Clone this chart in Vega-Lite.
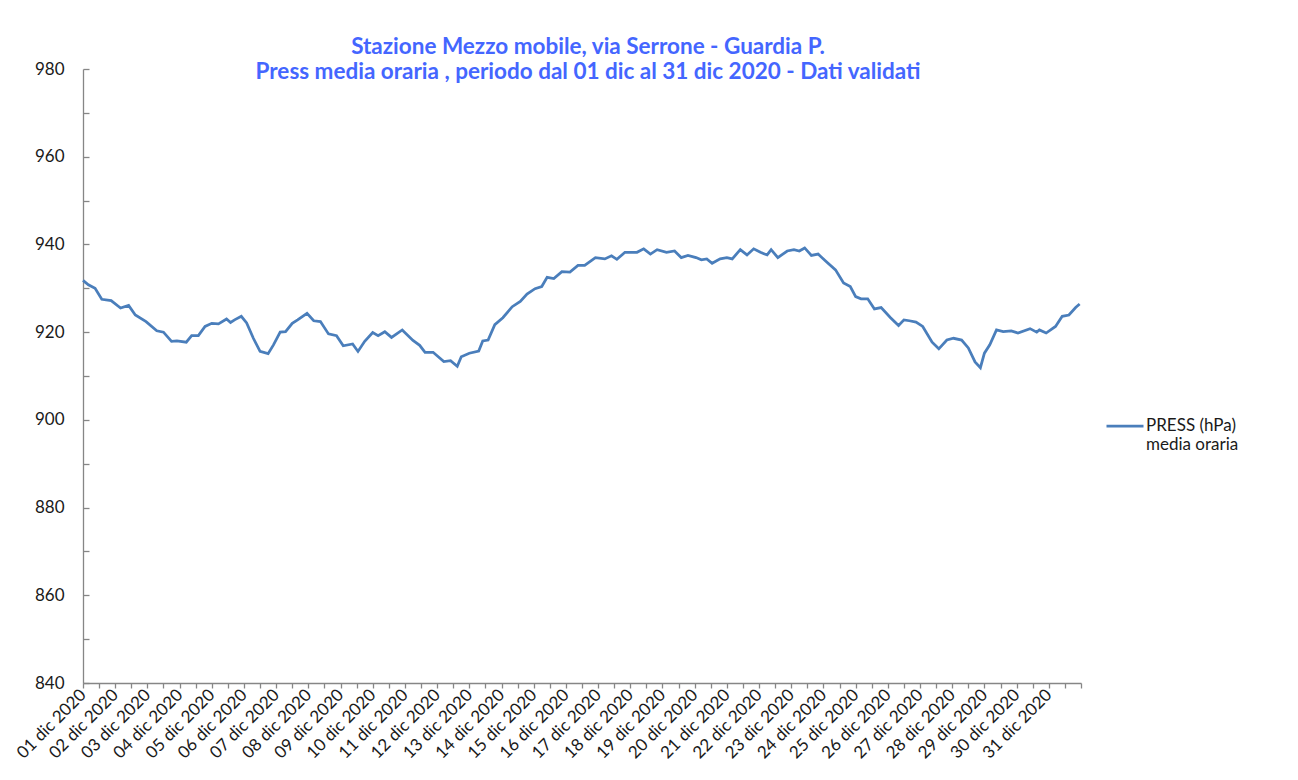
{
  "$schema": "https://vega.github.io/schema/vega-lite/v6.json",
  "width": 998,
  "height": 614,
  "padding": {"left": 13, "top": 35, "right": 5, "bottom": 5},
  "background": "white",
  "config": {
    "view": {"stroke": null},
    "font": "Lato",
    "axis": {"grid": false, "domainColor": "#868686", "tickColor": "#868686", "domainWidth": 1.3, "tickWidth": 1.3, "labelColor": "#1a1a1a", "labelFont": "Lato", "labelFontSize": 17}
  },
  "title": {
    "text": ["Stazione Mezzo mobile, via Serrone -  Guardia P.", "Press  media oraria , periodo dal 01 dic al 31 dic 2020 - Dati validati"],
    "font": "Lato",
    "fontSize": 22.5,
    "fontWeight": "bold",
    "color": "#4466ff",
    "anchor": "middle",
    "dx": 6,
    "offset": -23,
    "lineHeight": 25
  },
  "data": {"values": [
    {"t": "2020-12-01T00:00", "press": 931.8, "serie": "PRESS (hPa)|media oraria"},
    {"t": "2020-12-01T04:00", "press": 930.8, "serie": "PRESS (hPa)|media oraria"},
    {"t": "2020-12-01T09:00", "press": 930.0, "serie": "PRESS (hPa)|media oraria"},
    {"t": "2020-12-01T14:00", "press": 927.5, "serie": "PRESS (hPa)|media oraria"},
    {"t": "2020-12-01T21:00", "press": 927.2, "serie": "PRESS (hPa)|media oraria"},
    {"t": "2020-12-02T04:00", "press": 925.5, "serie": "PRESS (hPa)|media oraria"},
    {"t": "2020-12-02T10:00", "press": 926.1, "serie": "PRESS (hPa)|media oraria"},
    {"t": "2020-12-02T15:00", "press": 923.9, "serie": "PRESS (hPa)|media oraria"},
    {"t": "2020-12-02T23:00", "press": 922.4, "serie": "PRESS (hPa)|media oraria"},
    {"t": "2020-12-03T07:00", "press": 920.3, "serie": "PRESS (hPa)|media oraria"},
    {"t": "2020-12-03T12:00", "press": 920.0, "serie": "PRESS (hPa)|media oraria"},
    {"t": "2020-12-03T18:00", "press": 917.9, "serie": "PRESS (hPa)|media oraria"},
    {"t": "2020-12-03T22:00", "press": 918.0, "serie": "PRESS (hPa)|media oraria"},
    {"t": "2020-12-04T05:00", "press": 917.7, "serie": "PRESS (hPa)|media oraria"},
    {"t": "2020-12-04T09:00", "press": 919.2, "serie": "PRESS (hPa)|media oraria"},
    {"t": "2020-12-04T14:00", "press": 919.2, "serie": "PRESS (hPa)|media oraria"},
    {"t": "2020-12-04T19:00", "press": 921.3, "serie": "PRESS (hPa)|media oraria"},
    {"t": "2020-12-05T00:00", "press": 922.0, "serie": "PRESS (hPa)|media oraria"},
    {"t": "2020-12-05T05:00", "press": 921.9, "serie": "PRESS (hPa)|media oraria"},
    {"t": "2020-12-05T11:00", "press": 923.0, "serie": "PRESS (hPa)|media oraria"},
    {"t": "2020-12-05T14:00", "press": 922.2, "serie": "PRESS (hPa)|media oraria"},
    {"t": "2020-12-05T17:00", "press": 922.8, "serie": "PRESS (hPa)|media oraria"},
    {"t": "2020-12-05T22:00", "press": 923.6, "serie": "PRESS (hPa)|media oraria"},
    {"t": "2020-12-06T02:00", "press": 922.1, "serie": "PRESS (hPa)|media oraria"},
    {"t": "2020-12-06T07:00", "press": 918.6, "serie": "PRESS (hPa)|media oraria"},
    {"t": "2020-12-06T12:00", "press": 915.6, "serie": "PRESS (hPa)|media oraria"},
    {"t": "2020-12-06T18:00", "press": 915.1, "serie": "PRESS (hPa)|media oraria"},
    {"t": "2020-12-06T22:00", "press": 917.1, "serie": "PRESS (hPa)|media oraria"},
    {"t": "2020-12-07T03:00", "press": 920.0, "serie": "PRESS (hPa)|media oraria"},
    {"t": "2020-12-07T07:00", "press": 920.1, "serie": "PRESS (hPa)|media oraria"},
    {"t": "2020-12-07T12:00", "press": 922.0, "serie": "PRESS (hPa)|media oraria"},
    {"t": "2020-12-07T16:00", "press": 922.8, "serie": "PRESS (hPa)|media oraria"},
    {"t": "2020-12-07T23:00", "press": 924.3, "serie": "PRESS (hPa)|media oraria"},
    {"t": "2020-12-08T04:00", "press": 922.6, "serie": "PRESS (hPa)|media oraria"},
    {"t": "2020-12-08T09:00", "press": 922.4, "serie": "PRESS (hPa)|media oraria"},
    {"t": "2020-12-08T15:00", "press": 919.6, "serie": "PRESS (hPa)|media oraria"},
    {"t": "2020-12-08T21:00", "press": 919.2, "serie": "PRESS (hPa)|media oraria"},
    {"t": "2020-12-09T02:00", "press": 916.9, "serie": "PRESS (hPa)|media oraria"},
    {"t": "2020-12-09T09:00", "press": 917.3, "serie": "PRESS (hPa)|media oraria"},
    {"t": "2020-12-09T13:00", "press": 915.6, "serie": "PRESS (hPa)|media oraria"},
    {"t": "2020-12-09T18:00", "press": 917.9, "serie": "PRESS (hPa)|media oraria"},
    {"t": "2020-12-10T00:00", "press": 919.9, "serie": "PRESS (hPa)|media oraria"},
    {"t": "2020-12-10T04:00", "press": 919.2, "serie": "PRESS (hPa)|media oraria"},
    {"t": "2020-12-10T09:00", "press": 920.1, "serie": "PRESS (hPa)|media oraria"},
    {"t": "2020-12-10T14:00", "press": 918.8, "serie": "PRESS (hPa)|media oraria"},
    {"t": "2020-12-10T22:00", "press": 920.5, "serie": "PRESS (hPa)|media oraria"},
    {"t": "2020-12-11T06:00", "press": 918.1, "serie": "PRESS (hPa)|media oraria"},
    {"t": "2020-12-11T11:00", "press": 917.0, "serie": "PRESS (hPa)|media oraria"},
    {"t": "2020-12-11T15:00", "press": 915.4, "serie": "PRESS (hPa)|media oraria"},
    {"t": "2020-12-11T21:00", "press": 915.4, "serie": "PRESS (hPa)|media oraria"},
    {"t": "2020-12-12T05:00", "press": 913.3, "serie": "PRESS (hPa)|media oraria"},
    {"t": "2020-12-12T10:00", "press": 913.5, "serie": "PRESS (hPa)|media oraria"},
    {"t": "2020-12-12T15:00", "press": 912.2, "serie": "PRESS (hPa)|media oraria"},
    {"t": "2020-12-12T18:00", "press": 914.4, "serie": "PRESS (hPa)|media oraria"},
    {"t": "2020-12-13T00:00", "press": 915.2, "serie": "PRESS (hPa)|media oraria"},
    {"t": "2020-12-13T07:00", "press": 915.7, "serie": "PRESS (hPa)|media oraria"},
    {"t": "2020-12-13T10:00", "press": 918.0, "serie": "PRESS (hPa)|media oraria"},
    {"t": "2020-12-13T14:00", "press": 918.2, "serie": "PRESS (hPa)|media oraria"},
    {"t": "2020-12-13T19:00", "press": 921.7, "serie": "PRESS (hPa)|media oraria"},
    {"t": "2020-12-14T01:00", "press": 923.3, "serie": "PRESS (hPa)|media oraria"},
    {"t": "2020-12-14T08:00", "press": 925.8, "serie": "PRESS (hPa)|media oraria"},
    {"t": "2020-12-14T14:00", "press": 927.0, "serie": "PRESS (hPa)|media oraria"},
    {"t": "2020-12-14T19:00", "press": 928.7, "serie": "PRESS (hPa)|media oraria"},
    {"t": "2020-12-15T01:00", "press": 929.9, "serie": "PRESS (hPa)|media oraria"},
    {"t": "2020-12-15T06:00", "press": 930.4, "serie": "PRESS (hPa)|media oraria"},
    {"t": "2020-12-15T10:00", "press": 932.5, "serie": "PRESS (hPa)|media oraria"},
    {"t": "2020-12-15T15:00", "press": 932.2, "serie": "PRESS (hPa)|media oraria"},
    {"t": "2020-12-15T21:00", "press": 933.8, "serie": "PRESS (hPa)|media oraria"},
    {"t": "2020-12-16T03:00", "press": 933.7, "serie": "PRESS (hPa)|media oraria"},
    {"t": "2020-12-16T09:00", "press": 935.2, "serie": "PRESS (hPa)|media oraria"},
    {"t": "2020-12-16T14:00", "press": 935.2, "serie": "PRESS (hPa)|media oraria"},
    {"t": "2020-12-16T22:00", "press": 937.0, "serie": "PRESS (hPa)|media oraria"},
    {"t": "2020-12-17T05:00", "press": 936.7, "serie": "PRESS (hPa)|media oraria"},
    {"t": "2020-12-17T10:00", "press": 937.4, "serie": "PRESS (hPa)|media oraria"},
    {"t": "2020-12-17T14:00", "press": 936.6, "serie": "PRESS (hPa)|media oraria"},
    {"t": "2020-12-17T20:00", "press": 938.2, "serie": "PRESS (hPa)|media oraria"},
    {"t": "2020-12-18T05:00", "press": 938.2, "serie": "PRESS (hPa)|media oraria"},
    {"t": "2020-12-18T10:00", "press": 939.0, "serie": "PRESS (hPa)|media oraria"},
    {"t": "2020-12-18T15:00", "press": 937.8, "serie": "PRESS (hPa)|media oraria"},
    {"t": "2020-12-18T20:00", "press": 938.8, "serie": "PRESS (hPa)|media oraria"},
    {"t": "2020-12-19T03:00", "press": 938.2, "serie": "PRESS (hPa)|media oraria"},
    {"t": "2020-12-19T09:00", "press": 938.5, "serie": "PRESS (hPa)|media oraria"},
    {"t": "2020-12-19T14:00", "press": 937.0, "serie": "PRESS (hPa)|media oraria"},
    {"t": "2020-12-19T19:00", "press": 937.5, "serie": "PRESS (hPa)|media oraria"},
    {"t": "2020-12-20T01:00", "press": 937.0, "serie": "PRESS (hPa)|media oraria"},
    {"t": "2020-12-20T05:00", "press": 936.5, "serie": "PRESS (hPa)|media oraria"},
    {"t": "2020-12-20T09:00", "press": 936.7, "serie": "PRESS (hPa)|media oraria"},
    {"t": "2020-12-20T13:00", "press": 935.7, "serie": "PRESS (hPa)|media oraria"},
    {"t": "2020-12-20T19:00", "press": 936.7, "serie": "PRESS (hPa)|media oraria"},
    {"t": "2020-12-21T00:00", "press": 937.0, "serie": "PRESS (hPa)|media oraria"},
    {"t": "2020-12-21T04:00", "press": 936.7, "serie": "PRESS (hPa)|media oraria"},
    {"t": "2020-12-21T10:00", "press": 938.8, "serie": "PRESS (hPa)|media oraria"},
    {"t": "2020-12-21T15:00", "press": 937.6, "serie": "PRESS (hPa)|media oraria"},
    {"t": "2020-12-21T20:00", "press": 939.0, "serie": "PRESS (hPa)|media oraria"},
    {"t": "2020-12-22T01:00", "press": 938.2, "serie": "PRESS (hPa)|media oraria"},
    {"t": "2020-12-22T06:00", "press": 937.6, "serie": "PRESS (hPa)|media oraria"},
    {"t": "2020-12-22T09:00", "press": 938.8, "serie": "PRESS (hPa)|media oraria"},
    {"t": "2020-12-22T14:00", "press": 937.0, "serie": "PRESS (hPa)|media oraria"},
    {"t": "2020-12-22T21:00", "press": 938.5, "serie": "PRESS (hPa)|media oraria"},
    {"t": "2020-12-23T02:00", "press": 938.8, "serie": "PRESS (hPa)|media oraria"},
    {"t": "2020-12-23T06:00", "press": 938.5, "serie": "PRESS (hPa)|media oraria"},
    {"t": "2020-12-23T10:00", "press": 939.2, "serie": "PRESS (hPa)|media oraria"},
    {"t": "2020-12-23T15:00", "press": 937.5, "serie": "PRESS (hPa)|media oraria"},
    {"t": "2020-12-23T20:00", "press": 937.8, "serie": "PRESS (hPa)|media oraria"},
    {"t": "2020-12-24T02:00", "press": 936.1, "serie": "PRESS (hPa)|media oraria"},
    {"t": "2020-12-24T09:00", "press": 934.2, "serie": "PRESS (hPa)|media oraria"},
    {"t": "2020-12-24T15:00", "press": 931.2, "serie": "PRESS (hPa)|media oraria"},
    {"t": "2020-12-24T20:00", "press": 930.4, "serie": "PRESS (hPa)|media oraria"},
    {"t": "2020-12-25T00:00", "press": 928.1, "serie": "PRESS (hPa)|media oraria"},
    {"t": "2020-12-25T04:00", "press": 927.6, "serie": "PRESS (hPa)|media oraria"},
    {"t": "2020-12-25T09:00", "press": 927.6, "serie": "PRESS (hPa)|media oraria"},
    {"t": "2020-12-25T14:00", "press": 925.3, "serie": "PRESS (hPa)|media oraria"},
    {"t": "2020-12-25T19:00", "press": 925.6, "serie": "PRESS (hPa)|media oraria"},
    {"t": "2020-12-26T02:00", "press": 923.3, "serie": "PRESS (hPa)|media oraria"},
    {"t": "2020-12-26T08:00", "press": 921.5, "serie": "PRESS (hPa)|media oraria"},
    {"t": "2020-12-26T12:00", "press": 922.8, "serie": "PRESS (hPa)|media oraria"},
    {"t": "2020-12-26T16:00", "press": 922.6, "serie": "PRESS (hPa)|media oraria"},
    {"t": "2020-12-26T21:00", "press": 922.3, "serie": "PRESS (hPa)|media oraria"},
    {"t": "2020-12-27T02:00", "press": 921.3, "serie": "PRESS (hPa)|media oraria"},
    {"t": "2020-12-27T09:00", "press": 917.7, "serie": "PRESS (hPa)|media oraria"},
    {"t": "2020-12-27T14:00", "press": 916.2, "serie": "PRESS (hPa)|media oraria"},
    {"t": "2020-12-27T20:00", "press": 918.2, "serie": "PRESS (hPa)|media oraria"},
    {"t": "2020-12-28T01:00", "press": 918.6, "serie": "PRESS (hPa)|media oraria"},
    {"t": "2020-12-28T07:00", "press": 918.2, "serie": "PRESS (hPa)|media oraria"},
    {"t": "2020-12-28T12:00", "press": 916.4, "serie": "PRESS (hPa)|media oraria"},
    {"t": "2020-12-28T17:00", "press": 913.2, "serie": "PRESS (hPa)|media oraria"},
    {"t": "2020-12-28T21:00", "press": 911.9, "serie": "PRESS (hPa)|media oraria"},
    {"t": "2020-12-29T00:00", "press": 915.2, "serie": "PRESS (hPa)|media oraria"},
    {"t": "2020-12-29T04:00", "press": 917.1, "serie": "PRESS (hPa)|media oraria"},
    {"t": "2020-12-29T09:00", "press": 920.5, "serie": "PRESS (hPa)|media oraria"},
    {"t": "2020-12-29T14:00", "press": 920.1, "serie": "PRESS (hPa)|media oraria"},
    {"t": "2020-12-29T20:00", "press": 920.3, "serie": "PRESS (hPa)|media oraria"},
    {"t": "2020-12-30T01:00", "press": 919.8, "serie": "PRESS (hPa)|media oraria"},
    {"t": "2020-12-30T10:00", "press": 920.8, "serie": "PRESS (hPa)|media oraria"},
    {"t": "2020-12-30T15:00", "press": 920.0, "serie": "PRESS (hPa)|media oraria"},
    {"t": "2020-12-30T17:00", "press": 920.5, "serie": "PRESS (hPa)|media oraria"},
    {"t": "2020-12-30T22:00", "press": 919.8, "serie": "PRESS (hPa)|media oraria"},
    {"t": "2020-12-31T05:00", "press": 921.3, "serie": "PRESS (hPa)|media oraria"},
    {"t": "2020-12-31T10:00", "press": 923.6, "serie": "PRESS (hPa)|media oraria"},
    {"t": "2020-12-31T15:00", "press": 923.9, "serie": "PRESS (hPa)|media oraria"},
    {"t": "2020-12-31T20:00", "press": 925.6, "serie": "PRESS (hPa)|media oraria"},
    {"t": "2020-12-31T23:00", "press": 926.4, "serie": "PRESS (hPa)|media oraria"}
  ]},
  "mark": {"type": "line", "strokeWidth": 2.75},
  "encoding": {
    "x": {
      "field": "t",
      "type": "temporal",
      "title": null,
      "scale": {"domain": [{"year": 2020, "month": 12, "date": 1}, {"year": 2021, "month": 1, "date": 1}], "nice": false},
      "axis": {
        "values": [
          {"year": 2020, "month": 12, "date": 1}, {"year": 2020, "month": 12, "date": 1, "hours": 12},
          {"year": 2020, "month": 12, "date": 2}, {"year": 2020, "month": 12, "date": 2, "hours": 12},
          {"year": 2020, "month": 12, "date": 3}, {"year": 2020, "month": 12, "date": 3, "hours": 12},
          {"year": 2020, "month": 12, "date": 4}, {"year": 2020, "month": 12, "date": 4, "hours": 12},
          {"year": 2020, "month": 12, "date": 5}, {"year": 2020, "month": 12, "date": 5, "hours": 12},
          {"year": 2020, "month": 12, "date": 6}, {"year": 2020, "month": 12, "date": 6, "hours": 12},
          {"year": 2020, "month": 12, "date": 7}, {"year": 2020, "month": 12, "date": 7, "hours": 12},
          {"year": 2020, "month": 12, "date": 8}, {"year": 2020, "month": 12, "date": 8, "hours": 12},
          {"year": 2020, "month": 12, "date": 9}, {"year": 2020, "month": 12, "date": 9, "hours": 12},
          {"year": 2020, "month": 12, "date": 10}, {"year": 2020, "month": 12, "date": 10, "hours": 12},
          {"year": 2020, "month": 12, "date": 11}, {"year": 2020, "month": 12, "date": 11, "hours": 12},
          {"year": 2020, "month": 12, "date": 12}, {"year": 2020, "month": 12, "date": 12, "hours": 12},
          {"year": 2020, "month": 12, "date": 13}, {"year": 2020, "month": 12, "date": 13, "hours": 12},
          {"year": 2020, "month": 12, "date": 14}, {"year": 2020, "month": 12, "date": 14, "hours": 12},
          {"year": 2020, "month": 12, "date": 15}, {"year": 2020, "month": 12, "date": 15, "hours": 12},
          {"year": 2020, "month": 12, "date": 16}, {"year": 2020, "month": 12, "date": 16, "hours": 12},
          {"year": 2020, "month": 12, "date": 17}, {"year": 2020, "month": 12, "date": 17, "hours": 12},
          {"year": 2020, "month": 12, "date": 18}, {"year": 2020, "month": 12, "date": 18, "hours": 12},
          {"year": 2020, "month": 12, "date": 19}, {"year": 2020, "month": 12, "date": 19, "hours": 12},
          {"year": 2020, "month": 12, "date": 20}, {"year": 2020, "month": 12, "date": 20, "hours": 12},
          {"year": 2020, "month": 12, "date": 21}, {"year": 2020, "month": 12, "date": 21, "hours": 12},
          {"year": 2020, "month": 12, "date": 22}, {"year": 2020, "month": 12, "date": 22, "hours": 12},
          {"year": 2020, "month": 12, "date": 23}, {"year": 2020, "month": 12, "date": 23, "hours": 12},
          {"year": 2020, "month": 12, "date": 24}, {"year": 2020, "month": 12, "date": 24, "hours": 12},
          {"year": 2020, "month": 12, "date": 25}, {"year": 2020, "month": 12, "date": 25, "hours": 12},
          {"year": 2020, "month": 12, "date": 26}, {"year": 2020, "month": 12, "date": 26, "hours": 12},
          {"year": 2020, "month": 12, "date": 27}, {"year": 2020, "month": 12, "date": 27, "hours": 12},
          {"year": 2020, "month": 12, "date": 28}, {"year": 2020, "month": 12, "date": 28, "hours": 12},
          {"year": 2020, "month": 12, "date": 29}, {"year": 2020, "month": 12, "date": 29, "hours": 12},
          {"year": 2020, "month": 12, "date": 30}, {"year": 2020, "month": 12, "date": 30, "hours": 12},
          {"year": 2020, "month": 12, "date": 31}, {"year": 2020, "month": 12, "date": 31, "hours": 12},
          {"year": 2021, "month": 1, "date": 1}
        ],
        "labelExpr": "hours(datum.value) == 0 && month(datum.value) == 11 ? timeFormat(datum.value, '%d') + ' dic 2020' : ''",
        "labelAngle": -45,
        "labelAlign": "right",
        "labelBaseline": "middle",
        "labelPadding": 4,
        "tickSize": 5,
        "labelOverlap": false,
        "labelBound": false,
        "labelFlush": false
      }
    },
    "y": {
      "field": "press",
      "type": "quantitative",
      "title": null,
      "scale": {"domain": [840, 980], "nice": false, "zero": false},
      "axis": {
        "values": [840, 850, 860, 870, 880, 890, 900, 910, 920, 930, 940, 950, 960, 970, 980],
        "labelExpr": "datum.value % 20 == 0 ? datum.label : ''",
        "tickSize": -6,
        "labelPadding": 25
      }
    },
    "color": {
      "field": "serie",
      "type": "nominal",
      "scale": {"range": ["#4a7ebb"]},
      "legend": {
        "title": null,
        "orient": "none",
        "legendX": 1022,
        "legendY": 337,
        "symbolType": "stroke",
        "symbolSize": 1369,
        "symbolStrokeWidth": 2.75,
        "labelFontSize": 17,
        "labelFont": "Lato",
        "labelColor": "#1a1a1a",
        "labelOffset": 1,
        "labelLimit": 200,
        "labelExpr": "split(datum.label, '|')",
        "padding": 0
      }
    }
  }
}
